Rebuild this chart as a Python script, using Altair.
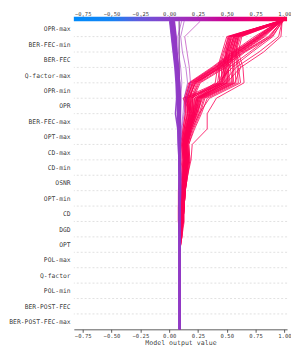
import json
import altair as alt
import pandas as pd

# ---------------- data ----------------
features = ["OPR-max", "BER-FEC-min", "BER-FEC", "Q-factor-max", "OPR-min", "OPR",
            "BER-FEC-max", "OPT-max", "CD-max", "CD-min", "OSNR", "OPT-min", "CD",
            "DGD", "OPT", "POL-max", "Q-factor", "POL-min", "BER-POST-FEC",
            "BER-POST-FEC-max"]  # top -> bottom
base_value = 0.09
x_ticks = [-0.75, -0.5, -0.25, 0.0, 0.25, 0.5, 0.75, 1.0]
x_domain = [-0.827, 1.023]

# cumulative model output at each feature boundary, bottom (base) -> top (output)
red_lines = [
    [0.09,0.09,0.09,0.09,0.09, 0.09,0.10,0.11,0.12,0.12,0.13,0.14,0.12,0.14,0.17,0.16,0.20,0.41,0.59,0.78,0.97],
    [0.09,0.09,0.09,0.09,0.09, 0.09,0.09,0.10,0.10,0.11,0.11,0.12,0.11,0.13,0.15,0.14,0.18,0.38,0.56,0.76,0.96],
    [0.09,0.09,0.09,0.09,0.09, 0.09,0.10,0.12,0.13,0.13,0.14,0.15,0.13,0.16,0.19,0.18,0.22,0.43,0.61,0.80,0.98],
    [0.09,0.09,0.09,0.09,0.09, 0.09,0.09,0.09,0.10,0.10,0.11,0.12,0.12,0.15,0.18,0.19,0.24,0.45,0.63,0.83,0.97],
    [0.09,0.09,0.09,0.09,0.09, 0.09,0.10,0.11,0.11,0.12,0.12,0.13,0.12,0.13,0.16,0.15,0.19,0.40,0.57,0.77,0.95],
    [0.09,0.09,0.09,0.09,0.09, 0.09,0.11,0.12,0.13,0.14,0.15,0.16,0.14,0.17,0.21,0.20,0.26,0.47,0.64,0.86,0.98],
    [0.09,0.09,0.09,0.09,0.09, 0.09,0.09,0.08,0.08,0.09,0.10,0.11,0.11,0.12,0.14,0.13,0.17,0.37,0.55,0.74,0.96],
    [0.09,0.09,0.09,0.09,0.09, 0.09,0.10,0.10,0.11,0.12,0.13,0.14,0.13,0.15,0.18,0.17,0.21,0.42,0.60,0.79,0.97],
    [0.09,0.09,0.09,0.09,0.09, 0.09,0.10,0.11,0.12,0.13,0.14,0.15,0.14,0.16,0.20,0.21,0.27,0.49,0.66,0.89,0.99],
    [0.09,0.09,0.09,0.09,0.09, 0.09,0.09,0.10,0.10,0.11,0.12,0.12,0.11,0.13,0.16,0.16,0.20,0.40,0.58,0.78,0.96],
    [0.09,0.09,0.09,0.09,0.09, 0.09,0.10,0.11,0.12,0.12,0.13,0.14,0.13,0.15,0.17,0.17,0.23,0.44,0.62,0.81,0.98],
    [0.09,0.09,0.09,0.09,0.09, 0.09,0.09,0.08,0.08,0.08,0.09,0.10,0.10,0.12,0.14,0.14,0.18,0.39,0.57,0.76,0.95],
    [0.09,0.09,0.09,0.09,0.09, 0.09,0.10,0.11,0.12,0.13,0.13,0.14,0.12,0.14,0.18,0.18,0.22,0.46,0.65,0.87,0.98],
    [0.09,0.09,0.09,0.09,0.09, 0.09,0.10,0.12,0.12,0.13,0.14,0.16,0.15,0.17,0.22,0.20,0.25,0.44,0.60,0.79,0.97],
    [0.09,0.09,0.09,0.09,0.09, 0.09,0.10,0.11,0.12,0.12,0.13,0.14,0.14,0.17,0.22,0.24,0.48,0.47,0.50,0.55,0.97],
    [0.09,0.09,0.09,0.09,0.09, 0.09,0.09,0.10,0.10,0.11,0.12,0.13,0.13,0.16,0.20,0.16,0.44,0.43,0.47,0.52,0.96],
    [0.09,0.09,0.09,0.09,0.09, 0.09,0.10,0.12,0.13,0.14,0.15,0.17,0.16,0.19,0.25,0.28,0.55,0.53,0.55,0.58,0.98],
    [0.09,0.09,0.09,0.09,0.09, 0.09,0.10,0.11,0.11,0.12,0.13,0.15,0.14,0.18,0.23,0.26,0.52,0.50,0.52,0.56,0.97],
    [0.09,0.09,0.09,0.09,0.09, 0.09,0.11,0.12,0.13,0.14,0.16,0.18,0.17,0.21,0.27,0.31,0.58,0.57,0.56,0.60,0.98],
    [0.09,0.09,0.09,0.09,0.09, 0.09,0.09,0.10,0.11,0.11,0.12,0.13,0.12,0.15,0.19,0.12,0.42,0.44,0.48,0.51,0.95],
    [0.09,0.09,0.09,0.09,0.09, 0.09,0.10,0.11,0.12,0.13,0.14,0.16,0.15,0.19,0.24,0.27,0.50,0.48,0.51,0.54,0.97],
    [0.09,0.09,0.09,0.09,0.09, 0.09,0.10,0.12,0.12,0.13,0.15,0.17,0.16,0.20,0.26,0.30,0.56,0.55,0.54,0.59,0.99],
    [0.09,0.09,0.09,0.09,0.09, 0.09,0.10,0.12,0.13,0.14,0.16,0.19,0.20,0.33,0.33,0.41,0.65,0.64,0.60,0.63,0.98],
    [0.09,0.09,0.09,0.09,0.09, 0.09,0.09,0.10,0.11,0.12,0.13,0.14,0.14,0.17,0.21,0.22,0.46,0.49,0.53,0.57,0.96],
    [0.09,0.09,0.09,0.09,0.09, 0.09,0.10,0.11,0.12,0.13,0.14,0.15,0.14,0.18,0.22,0.25,0.50,0.52,0.49,0.53,0.97],
    [0.09,0.09,0.09,0.09,0.09, 0.09,0.11,0.13,0.13,0.14,0.16,0.18,0.17,0.22,0.28,0.33,0.60,0.59,0.57,0.61,0.98],
    [0.09,0.09,0.09,0.09,0.09, 0.09,0.10,0.11,0.11,0.12,0.13,0.15,0.15,0.18,0.23,0.25,0.47,0.45,0.50,0.54,0.96],
    [0.09,0.09,0.09,0.09,0.09, 0.09,0.10,0.10,0.11,0.12,0.14,0.16,0.15,0.19,0.24,0.28,0.53,0.51,0.52,0.56,0.97],
    [0.09,0.09,0.09,0.09,0.09, 0.09,0.09,0.10,0.11,0.11,0.12,0.13,0.13,0.16,0.20,0.14,0.49,0.47,0.50,0.53,0.95],
    [0.09,0.09,0.09,0.09,0.09, 0.09,0.10,0.12,0.13,0.14,0.15,0.17,0.16,0.20,0.26,0.35,0.62,0.60,0.58,0.62,0.99],
    [0.09,0.09,0.09,0.09,0.09, 0.09,0.10,0.11,0.12,0.13,0.14,0.15,0.15,0.18,0.23,0.27,0.54,0.56,0.54,0.58,0.97],
    [0.09,0.09,0.09,0.09,0.09, 0.09,0.09,0.10,0.11,0.12,0.13,0.14,0.13,0.16,0.21,0.24,0.45,0.46,0.49,0.52,0.96],
    [0.09,0.09,0.09,0.09,0.09, 0.09,0.10,0.11,0.12,0.12,0.13,0.15,0.14,0.17,0.21,0.22,0.42,0.55,0.72,0.90,0.98],
    [0.09,0.09,0.09,0.09,0.09, 0.09,0.10,0.12,0.13,0.13,0.15,0.16,0.15,0.18,0.23,0.26,0.47,0.58,0.78,0.95,0.98],
    [0.09,0.09,0.09,0.09,0.09, 0.09,0.09,0.10,0.11,0.12,0.13,0.14,0.13,0.16,0.20,0.24,0.44,0.52,0.70,0.88,0.97],
    [0.09,0.09,0.09,0.09,0.09, 0.09,0.10,0.11,0.12,0.13,0.14,0.15,0.14,0.18,0.22,0.25,0.50,0.62,0.82,0.97,0.98],
    [0.09,0.09,0.09,0.09,0.09, 0.09,0.10,0.11,0.12,0.13,0.14,0.15,0.14,0.17,0.21,0.19,0.45,0.50,0.56,0.60,0.97],
    [0.09,0.09,0.09,0.09,0.09, 0.09,0.10,0.10,0.11,0.12,0.13,0.14,0.13,0.16,0.19,0.20,0.40,0.42,0.46,0.50,0.96],
    [0.09,0.09,0.09,0.09,0.09, 0.09,0.11,0.12,0.12,0.13,0.15,0.17,0.16,0.19,0.24,0.29,0.57,0.62,0.58,0.60,0.98],
    [0.09,0.09,0.09,0.09,0.09, 0.09,0.10,0.11,0.12,0.13,0.14,0.15,0.13,0.15,0.18,0.17,0.23,0.43,0.62,0.82,0.97],
    [0.09,0.09,0.09,0.09,0.09, 0.09,0.09,0.10,0.11,0.11,0.12,0.13,0.12,0.14,0.16,0.15,0.21,0.41,0.59,0.80,0.96],
    [0.09,0.09,0.09,0.09,0.09, 0.09,0.10,0.12,0.13,0.14,0.15,0.16,0.15,0.18,0.22,0.23,0.51,0.49,0.53,0.57,0.98],
    [0.09,0.09,0.09,0.09,0.09, 0.09,0.10,0.11,0.12,0.12,0.13,0.14,0.13,0.16,0.20,0.18,0.46,0.52,0.55,0.59,0.97],
    [0.09,0.09,0.09,0.09,0.09, 0.09,0.09,0.10,0.10,0.11,0.12,0.13,0.12,0.15,0.18,0.15,0.43,0.48,0.51,0.56,0.96],
]
purple_lines = [
    [0.09,0.09,0.09,0.09,0.09, 0.09,0.09,0.09,0.09,0.09,0.09,0.09,0.09,0.088,0.087,0.09,0.085,0.075,0.06,0.045,0.03],
    [0.09,0.09,0.09,0.09,0.09, 0.09,0.09,0.09,0.095,0.095,0.095,0.09,0.09,0.092,0.093,0.095,0.09,0.08,0.065,0.055,0.04],
    [0.09,0.09,0.09,0.09,0.09, 0.09,0.09,0.09,0.09,0.09,0.09,0.09,0.085,0.083,0.082,0.08,0.075,0.065,0.05,0.035,0.02],
    [0.09,0.09,0.09,0.09,0.09, 0.09,0.09,0.095,0.095,0.1,0.1,0.095,0.09,0.095,0.097,0.1,0.09,0.08,0.068,0.06,0.045],
    [0.09,0.09,0.09,0.09,0.09, 0.09,0.09,0.09,0.09,0.09,0.088,0.085,0.08,0.078,0.074,0.07,0.065,0.055,0.04,0.025,0.01],
    [0.09,0.09,0.09,0.09,0.09, 0.09,0.09,0.09,0.09,0.09,0.09,0.09,0.088,0.087,0.086,0.085,0.08,0.07,0.055,0.04,0.025],
    [0.09,0.09,0.09,0.09,0.09, 0.09,0.09,0.09,0.09,0.09,0.09,0.088,0.085,0.082,0.078,0.075,0.07,0.06,0.045,0.03,0.015],
    [0.09,0.09,0.09,0.09,0.09, 0.09,0.09,0.09,0.09,0.09,0.09,0.085,0.08,0.075,0.055,0.065,0.06,0.05,0.035,0.02,0.005],
    [0.09,0.09,0.09,0.09,0.09, 0.09,0.09,0.09,0.09,0.092,0.092,0.09,0.09,0.088,0.088,0.09,0.085,0.075,0.062,0.05,0.035],
    [0.09,0.09,0.09,0.09,0.09, 0.09,0.09,0.09,0.092,0.095,0.095,0.092,0.09,0.089,0.089,0.09,0.083,0.072,0.058,0.042,0.028],
    [0.09,0.09,0.09,0.09,0.09, 0.09,0.09,0.09,0.09,0.09,0.09,0.088,0.086,0.084,0.083,0.082,0.078,0.068,0.052,0.038,0.022],
    [0.09,0.09,0.09,0.09,0.09, 0.09,0.09,0.09,0.09,0.09,0.09,0.087,0.083,0.08,0.078,0.078,0.072,0.062,0.048,0.032,0.018],
]
thin_lines = [
    [0.09,0.09,0.09,0.09,0.09, 0.09,0.09,0.09,0.095,0.095,0.1,0.1,0.1,0.11,0.13,0.15,0.185,0.175,0.155,0.135,0.27],
    [0.09,0.09,0.09,0.09,0.09, 0.09,0.09,0.09,0.09,0.095,0.095,0.1,0.1,0.105,0.12,0.13,0.16,0.145,0.115,0.1,0.13],
    [0.09,0.09,0.09,0.09,0.09, 0.09,0.09,0.09,0.09,0.09,0.09,0.09,0.095,0.1,0.1,0.1,0.11,0.1,0.08,0.075,0.108],
    [0.09,0.09,0.09,0.09,0.09, 0.09,0.09,0.09,0.09,0.09,0.09,0.09,0.09,0.09,0.09,0.09,0.09,0.088,0.085,0.085,0.083],
]

# colormap stops (value, colour), blue -> purple -> red
cmap_values = [-0.827, -0.5, -0.25, 0.0, 0.25, 0.5, 0.75, 1.023]
cmap_colors = ["#008bfb", "#1584f4", "#6658dc", "#8e3dc8", "#ae22b2", "#d0008f", "#ee006b", "#ff0051"]

# ---------------- build tables ----------------
def to_df(lines, prefix):
    rows = []
    for i, vals in enumerate(lines):
        for k, v in enumerate(vals):
            rows.append({"id": f"{prefix}{i:02d}", "k": k, "x": v, "out": vals[-1]})
    return pd.DataFrame(rows)

red_df = to_df(red_lines, "r")
purple_df = to_df(purple_lines, "p")
thin_df = to_df(thin_lines, "t")
n = len(features)
grid_df = pd.DataFrame({"k": list(range(1, n))})
base_df = pd.DataFrame({"x": [base_value], "y0": [0], "y1": [n]})

CB_H = 4.4          # colour-bar thickness in px (sits above the top feature row)
y_top = n + 0.281   # extra room at the top of the y scale for the colour bar

xscale = alt.Scale(domain=x_domain, nice=False, zero=False)
yscale = alt.Scale(domain=[0, y_top], nice=False, zero=False)
cscale = alt.Scale(domain=cmap_values, range=cmap_colors, interpolate="rgb")

label_expr = json.dumps(features) + f"[{n - 1} - floor(datum.value)]"

x_axis = alt.Axis(
    values=x_ticks, format=".2f", title="Model output value",
    labelFont="DejaVu Sans Mono", labelFontSize=5.7, labelColor="#333333", labelOpacity=0.99,
    titleFont="DejaVu Sans Mono", titleFontSize=6.7, titleFontWeight="normal",
    titleColor="#333333", titleOpacity=0.99, titlePadding=1, labelPadding=0.3, tickSize=3,
    tickColor="#333333", domainColor="#333333", domainWidth=0.8, tickWidth=0.8,
    grid=False)
y_axis = alt.Axis(
    values=[i + 0.5 for i in range(n)], labelExpr=label_expr, title=None,
    ticks=False, domain=False, grid=False, labelPadding=3.7,
    labelFont="DejaVu Sans Mono", labelFontSize=6.5, labelColor="#333333", labelOpacity=0.99)

grid = alt.Chart(grid_df).mark_rule(color="#cccccc", strokeWidth=0.6, strokeDash=[2, 2]).encode(
    y=alt.Y("k:Q", scale=yscale, axis=y_axis)
)
base_rule = alt.Chart(base_df).mark_rule(color="#999999", strokeWidth=1).encode(
    x=alt.X("x:Q", scale=xscale, axis=x_axis),
    y=alt.Y("y0:Q", scale=yscale, axis=y_axis), y2="y1:Q",
)

def line_layer(df, width, opacity):
    return alt.Chart(df).mark_line(strokeWidth=width, opacity=opacity).encode(
        x=alt.X("x:Q", scale=xscale, axis=x_axis),
        y=alt.Y("k:Q", scale=yscale, axis=y_axis),
        detail="id:N", order="k:Q",
        color=alt.Color("out:Q", scale=cscale, legend=None),
    )

main = alt.layer(
    grid,
    base_rule,
    line_layer(red_df, 0.9, 0.9),
    line_layer(thin_df, 1.0, 0.6),
    line_layer(purple_df, 1.6, 0.95),
)

stops = [{"offset": (v - x_domain[0]) / (x_domain[1] - x_domain[0]), "color": c}
         for v, c in zip(cmap_values, cmap_colors)]
gradient = {"gradient": "linear", "x1": 0, "x2": 1, "y1": 0, "y2": 0, "stops": stops}
cb_df = pd.DataFrame({"x0": [x_domain[0]], "x1": [x_domain[1]]})
colorbar = alt.Chart(cb_df).mark_rect(color=gradient).encode(
    x=alt.X("x0:Q", scale=alt.Scale(domain=x_domain, nice=False, zero=False), axis=alt.Axis(
        orient="top", values=x_ticks, format=".2f", title=None,
        labelFont="DejaVu Sans Mono", labelFontSize=5.6, labelColor="#333333", labelOpacity=0.99,
        labelPadding=-0.5, tickSize=1.2, tickColor="#999999", domain=False, grid=False)),
    x2="x1:Q",
    y=alt.value(0), y2=alt.value(CB_H),
)

chart = alt.layer(main, colorbar).resolve_scale(x="independent").resolve_axis(x="independent").properties(
    width=288, height=341,
    autosize=alt.AutoSizeParams(type="fit", contains="padding"),
    padding={"left": 0, "top": 0, "right": 0, "bottom": 0},
).configure_view(strokeWidth=0)

chart.save("out.html", embed_options={"renderer": "svg", "actions": False})
